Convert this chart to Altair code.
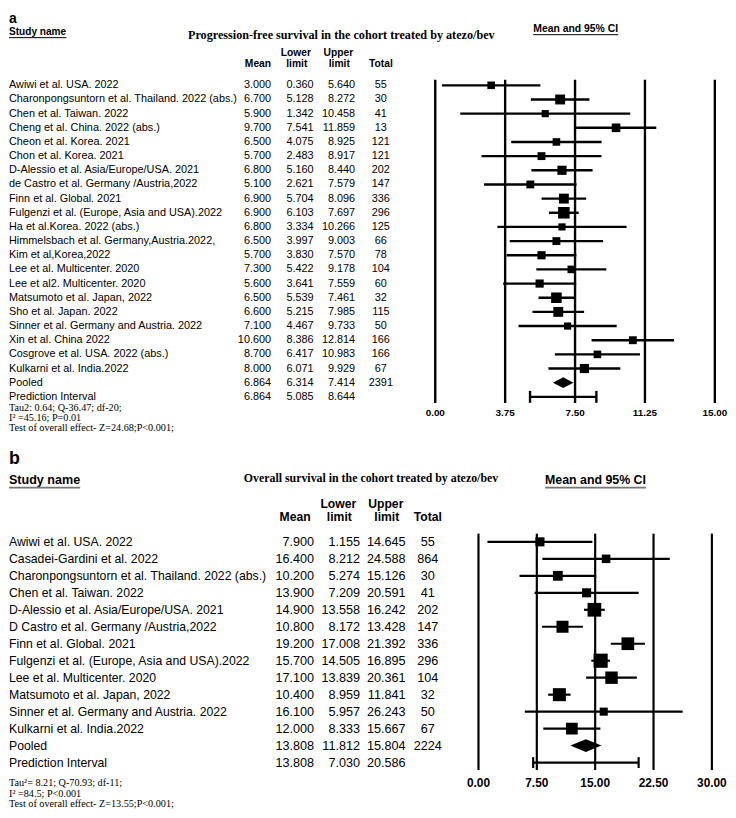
import altair as alt
import pandas as pd

# ---------------- Panel a: progression-free survival ----------------
a_names = [
    "Awiwi et al. USA. 2022",
    "Charonpongsuntorn et al. Thailand. 2022 (abs.)",
    "Chen et al. Taiwan. 2022",
    "Cheng et al. China. 2022 (abs.)",
    "Cheon et al. Korea. 2021",
    "Chon et al. Korea. 2021",
    "D-Alessio et al. Asia/Europe/USA. 2021",
    "de Castro et al. Germany /Austria,2022",
    "Finn et al. Global. 2021",
    "Fulgenzi et al. (Europe, Asia and USA).2022",
    "Ha et al.Korea. 2022 (abs.)",
    "Himmelsbach et al. Germany,Austria.2022,",
    "Kim et al,Korea,2022",
    "Lee et al. Multicenter. 2020",
    "Lee et al2. Multicenter. 2020",
    "Matsumoto et al. Japan, 2022",
    "Sho et al. Japan. 2022",
    "Sinner et al. Germany and Austria. 2022",
    "Xin et al. China 2022",
    "Cosgrove et al. USA. 2022 (abs.)",
    "Kulkarni et al. India.2022",
    "Pooled",
    "Prediction Interval",
]
a_mean = [3.000, 6.700, 5.900, 9.700, 6.500, 5.700, 6.800, 5.100, 6.900, 6.900, 6.800,
          6.500, 5.700, 7.300, 5.600, 6.500, 6.600, 7.100, 10.600, 8.700, 8.000, 6.864, 6.864]
a_lower = [0.360, 5.128, 1.342, 7.541, 4.075, 2.483, 5.160, 2.621, 5.704, 6.103, 3.334,
           3.997, 3.830, 5.422, 3.641, 5.539, 5.215, 4.467, 8.386, 6.417, 6.071, 6.314, 5.085]
a_upper = [5.640, 8.272, 10.458, 11.859, 8.925, 8.917, 8.440, 7.579, 8.096, 7.697, 10.266,
           9.003, 7.570, 9.178, 7.559, 7.461, 7.985, 9.733, 12.814, 10.983, 9.929, 7.414, 8.644]
a_total = [55, 30, 41, 13, 121, 121, 202, 147, 336, 296, 125, 66, 78, 104, 60, 32, 115, 50,
           166, 166, 67, 2391, None]
# relative weights (%) read from the square areas
a_weight = [3.7, 6.3, 3.3, 4.8, 3.7, 4.0, 5.4, 4.0, 6.3, 8.6, 3.3, 4.0, 4.3, 3.7, 4.3, 7.2,
            6.3, 3.3, 4.0, 3.7, 5.4]
a_ticks = [0.0, 3.75, 7.5, 11.25, 15.0]
a_title = "Progression-free survival in the cohort treated by atezo/bev"
a_footer = ["Tau2: 0.64; Q-36.47; df-20;", "I\u00b2 =45.16; P=0.01",
            "Test of overall effect- Z=24.68;P<0.001;"]

# ---------------- Panel b: overall survival ----------------
b_names = [
    "Awiwi et al. USA. 2022",
    "Casadei-Gardini et al. 2022",
    "Charonpongsuntorn et al. Thailand. 2022 (abs.)",
    "Chen et al. Taiwan. 2022",
    "D-Alessio et al. Asia/Europe/USA. 2021",
    "D Castro et al. Germany /Austria,2022",
    "Finn et al. Global. 2021",
    "Fulgenzi et al. (Europe, Asia and USA).2022",
    "Lee et al. Multicenter. 2020",
    "Matsumoto et al. Japan, 2022",
    "Sinner et al. Germany and Austria. 2022",
    "Kulkarni et al. India.2022",
    "Pooled",
    "Prediction Interval",
]
b_mean = [7.900, 16.400, 10.200, 13.900, 14.900, 10.800, 19.200, 15.700, 17.100, 10.400,
          16.100, 12.000, 13.808, 13.808]
b_lower = [1.155, 8.212, 5.274, 7.209, 13.558, 8.172, 17.008, 14.505, 13.839, 8.959,
           5.957, 8.333, 11.812, 7.030]
b_upper = [14.645, 24.588, 15.126, 20.591, 16.242, 13.428, 21.392, 16.895, 20.361, 11.841,
           26.243, 15.667, 15.804, 20.586]
b_total = [55, 864, 30, 41, 202, 147, 336, 296, 104, 32, 50, 67, 2224, None]
b_weight = [5.3, 4.7, 6.2, 5.3, 12.1, 9.3, 10.4, 12.9, 9.9, 10.9, 4.2, 8.9]
b_ticks = [0.0, 7.5, 15.0, 22.5, 30.0]
b_title = "Overall survival in the cohort treated by atezo/bev"
b_footer = ["Tau\u00b2= 8.21; Q-70.93; df-11;", "I\u00b2 =84.5; P<0.001",
            "Test of overall effect- Z=13.55;P<0.001;"]

SANS = "Liberation Sans"
SERIF = "Liberation Serif"
W = 720


def label(text, x, y, size, bold=False, align="left", font=SANS, baseline="alphabetic"):
    return alt.Chart(pd.DataFrame({"t": [text]})).mark_text(
        font=font, fontSize=size, fontWeight="bold" if bold else "normal",
        align=align, baseline=baseline, color="black",
    ).encode(x=alt.value(x), y=alt.value(y), text="t:N")


def hline(x1, x2, y, color="black", width=1.0):
    return alt.Chart(pd.DataFrame({"k": [0]})).mark_rule(
        color=color, strokeWidth=width
    ).encode(x=alt.value(x1), x2=alt.value(x2), y=alt.value(y))


def panel(letter, title, names, mean, lower, upper, total, weight, ticks, footer, L):
    n = len(names)
    df = pd.DataFrame({
        "row": list(range(n)), "name": names, "mean": mean, "lower": lower,
        "upper": upper, "total": ["" if t is None else str(t) for t in total],
    })
    k = len(weight)
    st = df.iloc[:k].copy()
    st["weight"] = weight
    pooled = df.iloc[k]
    pred = df.iloc[k + 1:k + 2]

    xs = alt.Scale(domain=[ticks[0], ticks[-1]], range=L["xrange"], nice=False, zero=False)
    ys = alt.Scale(domain=[0, n - 1], range=L["yrange"], nice=False, zero=False)

    def X(f):
        return alt.X(f, scale=xs, axis=None)

    def Y(f):
        return alt.Y(f, scale=ys, axis=None)

    lw = L["lw"]
    base = alt.Chart(df)
    layers = []
    # table
    layers.append(base.mark_text(align="left", baseline="middle", font=SANS,
                                 fontSize=L["name_fs"], color="black")
                  .encode(x=alt.value(0), y=Y("row:Q"), text="name:N"))
    for col, xp in (("mean", L["mean_x"]), ("lower", L["lower_x"]), ("upper", L["upper_x"])):
        layers.append(base.mark_text(align="right", baseline="middle", font=SANS,
                                     fontSize=L["num_fs"], color="black")
                      .encode(x=alt.value(xp), y=Y("row:Q"),
                              text=alt.Text(f"{col}:Q", format=".3f")))
    layers.append(base.mark_text(align="center", baseline="middle", font=SANS,
                                 fontSize=L["num_fs"], color="black")
                  .encode(x=alt.value(L["total_x"]), y=Y("row:Q"), text="total:N"))

    # grid lines and tick labels
    tk = pd.DataFrame({"tick": ticks})
    layers.append(alt.Chart(tk).mark_rule(color="black", strokeWidth=lw)
                  .encode(x=X("tick:Q"), y=alt.value(L["grid_top"]), y2=alt.value(L["grid_bot"])))
    layers.append(alt.Chart(tk).mark_text(font=SANS, fontSize=L["tick_fs"], fontWeight="bold",
                                          baseline="middle", align="center", color="black")
                  .encode(x=X("tick:Q"), y=alt.value(L["tick_y"]),
                          text=alt.Text("tick:Q", format=".2f")))

    # study CIs and squares
    layers.append(alt.Chart(st).mark_rule(color="black", strokeWidth=lw)
                  .encode(x=X("lower:Q"), x2=alt.X2("upper:Q"), y=Y("row:Q")))
    layers.append(alt.Chart(st).mark_square(filled=True, color="black", opacity=1)
                  .encode(x=X("mean:Q"), y=Y("row:Q"),
                          size=alt.Size("weight:Q", legend=None,
                                        scale=alt.Scale(domain=[0, 100], range=[0, L["area"]]))))

    # pooled diamond
    r, dh = pooled["row"], L["dia_h"]
    dia = pd.DataFrame({"x": [pooled["lower"], pooled["mean"], pooled["upper"]],
                        "ya": [r, r - dh, r], "yb": [r, r + dh, r]})
    layers.append(alt.Chart(dia).mark_area(color="black", opacity=1)
                  .encode(x=X("x:Q"), y=Y("ya:Q"), y2=alt.Y2("yb:Q")))

    # prediction interval with caps
    layers.append(alt.Chart(pred).mark_rule(color="black", strokeWidth=lw)
                  .encode(x=X("lower:Q"), x2=alt.X2("upper:Q"), y=Y("row:Q")))
    layers.append(alt.Chart(pred)
                  .transform_fold(["lower", "upper"], as_=["end", "val"])
                  .transform_calculate(ya=f"datum.row - {L['cap_h']}", yb=f"datum.row + {L['cap_h']}")
                  .mark_rule(color="black", strokeWidth=lw)
                  .encode(x=X("val:Q"), y=Y("ya:Q"), y2=alt.Y2("yb:Q")))

    # headings
    layers += [
        label(letter, 0, L["letter_y"], L["letter_fs"], bold=True, baseline=L["letter_bl"]),
        label("Study name", 0, L["sn_y"], L["sn_fs"], bold=True),
        hline(0, L["sn_w"], L["sn_ul"], color=L["ul_color"], width=L["ul_w"]),
        label(title, L["title_x"], L["title_y"], L["title_fs"], bold=True, align="center", font=SERIF),
        label("Mean and 95% CI", L["ci_x"], L["ci_y"], L["ci_fs"], bold=True, align="center"),
        hline(L["ci_x"] - L["ci_w"] / 2, L["ci_x"] + L["ci_w"] / 2, L["ci_ul"],
              color=L["ul_color"], width=L["ul_w"]),
        label("Lower", L["lh_x"], L["h1_y"], L["h_fs"], bold=True, align="center"),
        label("Upper", L["uh_x"], L["h1_y"], L["h_fs"], bold=True, align="center"),
        label("Mean", L["mh_x"], L["h2_y"], L["h_fs"], bold=True, align="right"),
        label("limit", L["lh_x"] + 1, L["h2_y"], L["h_fs"], bold=True, align="center"),
        label("limit", L["uh_x"] + 1, L["h2_y"], L["h_fs"], bold=True, align="center"),
        label("Total", L["total_x"], L["h2_y"], L["h_fs"], bold=True, align="center"),
    ]
    for line, fy in zip(footer, L["foot_y"]):
        layers.append(label(line, 0, fy, L["foot_fs"], font=SERIF, baseline="middle"))

    return alt.layer(*layers).properties(width=W, height=L["height"])


La = dict(
    height=432, xrange=[431, 713.7], yrange=[73.7, 388.7], lw=2.4,
    name_fs=11, num_fs=11, mean_x=265, lower_x=308, upper_x=350, total_x=376,
    grid_top=68, grid_bot=395, tick_y=405, tick_fs=10,
    area=1588, dia_h=0.38, cap_h=0.42,
    letter_y=0, letter_fs=14, letter_bl="top",
    sn_y=23, sn_fs=10.2, sn_w=58, sn_ul=25.5,
    ul_color="black", ul_w=1,
    title_x=336, title_y=27, title_fs=12.3,
    ci_x=573, ci_y=20, ci_fs=10.5, ci_w=86, ci_ul=22.5,
    h_fs=10.4, h1_y=43.7, h2_y=54.7, lh_x=290, uh_x=333, mh_x=265,
    foot_y=[399.5, 409.8, 420.1], foot_fs=10.3,
)

Lb = dict(
    height=374, xrange=[474.7, 710.7], yrange=[103.3, 326.5], lw=2.2,
    name_fs=12.4, num_fs=12.8, mean_x=308.5, lower_x=355, upper_x=401, total_x=423.5,
    grid_top=95, grid_bot=334, tick_y=346.7, tick_fs=12,
    area=1625, dia_h=0.38, cap_h=0.32,
    letter_y=25, letter_fs=18, letter_bl="alphabetic",
    sn_y=45, sn_fs=12.7, sn_w=72, sn_ul=48.5,
    ul_color="#777777", ul_w=1.6,
    title_x=366, title_y=43, title_fs=12,
    ci_x=593, ci_y=45, ci_fs=12.5, ci_w=102, ci_ul=48.5,
    h_fs=12.3, h1_y=69.4, h2_y=82.4, lh_x=333, uh_x=381, mh_x=305,
    foot_y=[347.5, 358, 368.5], foot_fs=10.3,
)

pa = panel("a", a_title, a_names, a_mean, a_lower, a_upper, a_total, a_weight, a_ticks, a_footer, La)
pb = panel("b", b_title, b_names, b_mean, b_lower, b_upper, b_total, b_weight, b_ticks, b_footer, Lb)

chart = (
    alt.vconcat(pa, pb, spacing=0)
    .properties(padding={"left": 0, "top": 0, "right": 0, "bottom": 0}, background="white")
    .configure_view(stroke=None)
    .configure_concat(spacing=0)
)

chart.save("out.html", embed_options={"renderer": "svg", "actions": False})
